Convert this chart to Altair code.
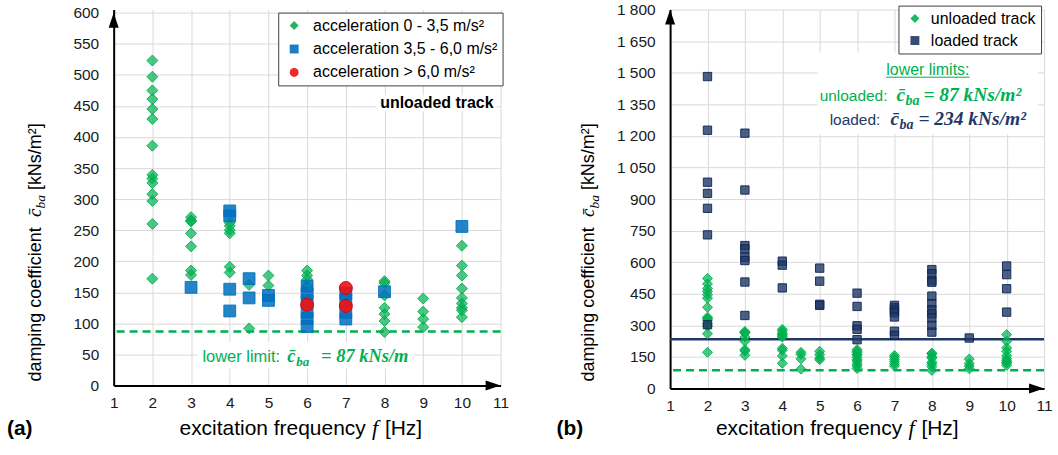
import altair as alt
import pandas as pd

# ---------------- values ----------------
X_TICKS = [1, 2, 3, 4, 5, 6, 7, 8, 9, 10, 11]
Y_TICKS_A = [0, 50, 100, 150, 200, 250, 300, 350, 400, 450, 500, 550, 600]
Y_TICKS_B = [0, 150, 300, 450, 600, 750, 900, 1050, 1200, 1350, 1500, 1650, 1800]

CLASSES_A = ["acceleration 0 - 3,5 m/s²", "acceleration 3,5 - 6,0 m/s²", "acceleration > 6,0 m/s²"]
CLASSES_B = ["unloaded track", "loaded track"]

# unloaded track, acceleration 0 - 3,5 m/s²
LOW_F = [2, 2, 2, 2, 2, 2, 2, 2, 2, 2, 2, 2, 2, 2,
         3, 3, 3, 3, 3, 3, 3,
         4, 4, 4, 4, 4, 4,
         4.5, 4.5,
         5, 5,
         6, 6, 6, 6,
         8, 8, 8, 8, 8, 8, 8,
         9, 9, 9, 9,
         10, 10, 10, 10, 10, 10, 10, 10, 10]
LOW_C = [523, 497, 475, 461, 445, 429, 386, 339, 333, 326, 308, 297, 260, 172,
         271, 266, 264, 245, 224, 185, 178,
         262, 257, 250, 245, 191, 182,
         162, 92,
         177, 161,
         185, 177, 171, 160,
         168, 165, 145, 125, 115, 104, 86,
         140, 119, 107, 94,
         225, 193, 177, 156, 141, 132, 125, 121, 110]

# unloaded track, acceleration 3,5 - 6,0 m/s²
MID_F = [3, 4, 4, 4, 4, 4.5, 4.5, 5, 5, 6, 6, 6, 6, 6, 6, 7, 7, 7, 7, 8, 10]
MID_C = [158, 281, 273, 155, 120, 172, 141, 145, 137, 160, 148, 137, 118, 108, 95,
         148, 138, 118, 107, 151, 256]

# unloaded track, acceleration > 6,0 m/s²
HIGH_F = [6, 7, 7]
HIGH_C = [130, 157, 128]

# loaded track
LOADED_F = [2, 2, 2, 2, 2, 2, 2,
            3, 3, 3, 3, 3, 3, 3, 3,
            4, 4, 4,
            5, 5, 5, 5,
            6, 6, 6, 6, 6,
            7, 7, 7, 7, 7, 7, 7,
            8, 8, 8, 8, 8, 8, 8, 8, 8, 8, 8,
            9,
            10, 10, 10, 10]
LOADED_C = [1482, 1227, 980, 927, 856, 730, 303,
            1213, 943, 679, 663, 624, 608, 506, 347,
            605, 586, 478,
            572, 510, 400, 395,
            453, 390, 298, 281, 232,
            395, 383, 371, 360, 340, 272, 253,
            565, 545, 513, 505, 439, 403, 374, 355, 335, 300, 268,
            240,
            582, 541, 474, 363]

LIMIT_UNLOADED = 87
LIMIT_LOADED = 234

# ---------------- styling ----------------
FONT = "Liberation Sans"
SERIF = "Liberation Serif"
GRID = "#d9d9d9"
LAB = "#1a1a1a"
GREEN = "#00b050"
BLUE = "#0070c0"
RED = "#ee1111"
NAVY = "#1f3864"

W_A, H_A = 388, 377
W_B, H_B = 375, 380

UP = "M0,-1L0.667,1L-0.667,1Z"
RIGHT = "M1,0L-1,0.667L-1,-0.667Z"

ONE = pd.DataFrame({"k": [0]})


def axis(**kw):
    base = dict(title=None, grid=True, gridColor=GRID, gridWidth=1, domain=True,
                domainColor="black", domainWidth=2, ticks=False, labelFont=FONT,
                labelFontSize=15.5, labelColor=LAB, labelOverlap=False, labelFlush=False)
    base.update(kw)
    return alt.Axis(**base)


def xenc():
    return alt.X("f:Q", scale=alt.Scale(domain=[1, 11], nice=False, zero=False),
                 axis=axis(values=X_TICKS, labelPadding=10, format="d"))


def yA():
    return alt.Y("c:Q", scale=alt.Scale(domain=[0, 605], nice=False, zero=False),
                 axis=axis(values=Y_TICKS_A, labelPadding=15, format="d"))


def yB():
    return alt.Y("c:Q", scale=alt.Scale(domain=[0, 1800], nice=False, zero=False),
                 axis=axis(values=Y_TICKS_B, labelPadding=15,
                           labelExpr="replace(format(datum.value, ','), ',', ' ')"))


def T(text, x, y, size, color="black", font=FONT, style="normal", weight="normal",
      dx=0, dy=0, align="left", angle=0):
    return alt.Chart(ONE).mark_text(
        text=text, font=font, fontSize=size, fontStyle=style, fontWeight=weight,
        color=color, dx=dx, dy=dy, align=align, baseline="alphabetic", angle=angle
    ).encode(x=alt.value(x), y=alt.value(y))


def box(x, x2, y, y2):
    return alt.Chart(ONE).mark_rect(color="white").encode(
        x=alt.value(x), x2=alt.value(x2), y=alt.value(y), y2=alt.value(y2))


def ytitle(x, y):
    return [
        T("damping coefficient", x, y, 18, angle=270),
        T("c̄", x, y, 19, font=SERIF, style="italic", dx=165, angle=270),
        T("ba", x, y, 13.5, font=SERIF, style="italic", dx=173.5, dy=4.5, angle=270),
        T("[kNs/m²]", x, y, 18, dx=192, angle=270),
    ]


def xtitle(x, y):
    return [
        T("excitation frequency", x, y, 21),
        T("f", x, y, 22, font=SERIF, style="italic", dx=193),
        T("[Hz]", x, y, 21, dx=206),
    ]


def arrows(ytop, yenc):
    up = alt.Chart(pd.DataFrame({"f": [X_TICKS[0]], "c": [ytop]})).mark_point(
        shape=UP, filled=True, color="black", size=225, opacity=1, yOffset=7.5
    ).encode(x=xenc(), y=yenc)
    rt = alt.Chart(pd.DataFrame({"f": [X_TICKS[-1]], "c": [0]})).mark_point(
        shape=RIGHT, filled=True, color="black", size=225, opacity=1, xOffset=-7.5
    ).encode(x=xenc(), y=yenc)
    return [up, rt]


# ---------------- panel (a) ----------------
df_low = pd.DataFrame({"f": LOW_F, "c": LOW_C, "cls": CLASSES_A[0]})
df_mid = pd.DataFrame({"f": MID_F, "c": MID_C, "cls": CLASSES_A[1]})
df_high = pd.DataFrame({"f": HIGH_F, "c": HIGH_C, "cls": CLASSES_A[2]})

LEG_A = alt.Legend(orient="none", legendX=165, legendY=3, title=None, fillColor="white",
                   strokeColor="#404040", padding=5, symbolOffset=3, labelOffset=11,
                   rowPadding=7.5, labelFont=FONT, labelFontSize=16, labelColor="black",
                   labelLimit=0, symbolSize=80, symbolStrokeWidth=0, symbolOpacity=0.9)
COL_A = alt.Scale(domain=CLASSES_A, range=[GREEN, BLUE, RED])
SHP_A = alt.Scale(domain=CLASSES_A, range=["diamond", "square", "circle"])


def ptsA(df, size, fop, stroke):
    return alt.Chart(df).mark_point(
        filled=True, size=size, opacity=1, fillOpacity=fop, stroke=stroke,
        strokeWidth=1, strokeOpacity=0.9
    ).encode(x=xenc(), y=yA(),
             color=alt.Color("cls:N", scale=COL_A, legend=LEG_A),
             shape=alt.Shape("cls:N", scale=SHP_A, legend=LEG_A))


limA = alt.Chart(pd.DataFrame({"c": [LIMIT_UNLOADED]})).mark_rule(
    color=GREEN, strokeWidth=2.5, strokeDash=[8, 5]).encode(y=yA())

layers_a = [
    box(263, 384, 86, 102),
    box(84, 301, 333, 360),
    limA,
    ptsA(df_low, 121, 0.7, GREEN),
    ptsA(df_mid, 140, 0.85, BLUE),
    ptsA(df_high, 170, 0.9, "#d00010"),
] + arrows(Y_TICKS_A[-1], yA()) + [
    T("unloaded track", 381, 99, 16, weight="bold", align="right"),
    T("lower limit:", 89, 353, 16.5, color=GREEN),
    T("c̄", 89, 353, 18.5, color=GREEN, font=SERIF, style="italic", weight="bold", dx=85),
    T("ba", 89, 353, 13, color=GREEN, font=SERIF, style="italic", weight="bold", dx=94, dy=4),
    T("= 87 kNs/m", 89, 353, 18.5, color=GREEN, font=SERIF, style="italic", weight="bold", dx=119),
    T("(a)", -107, 427, 21, weight="bold"),
] + ytitle(-73, 373) + xtitle(66, 427)

panel_a = alt.layer(*layers_a).properties(width=W_A, height=H_A)

# ---------------- panel (b) ----------------
df_unl = pd.DataFrame({"f": LOW_F + MID_F + HIGH_F, "c": LOW_C + MID_C + HIGH_C,
                       "trk": CLASSES_B[0]})
df_lod = pd.DataFrame({"f": LOADED_F, "c": LOADED_C, "trk": CLASSES_B[1]})

LEG_B = alt.Legend(orient="none", legendX=229, legendY=-4, title=None, fillColor="white",
                   strokeColor="#404040", padding=5, symbolOffset=3.5, labelOffset=8,
                   rowPadding=6, labelFont=FONT, labelFontSize=16, labelColor="black",
                   labelLimit=0, symbolSize=80, symbolStrokeWidth=0, symbolOpacity=0.9)
COL_B = alt.Scale(domain=CLASSES_B, range=[GREEN, NAVY])
SHP_B = alt.Scale(domain=CLASSES_B, range=["diamond", "square"])


def ptsB(df, size, fop, stroke):
    return alt.Chart(df).mark_point(
        filled=True, size=size, opacity=1, fillOpacity=fop, stroke=stroke,
        strokeWidth=1, strokeOpacity=0.9
    ).encode(x=xenc(), y=yB(),
             color=alt.Color("trk:N", scale=COL_B, legend=LEG_B),
             shape=alt.Shape("trk:N", scale=SHP_B, legend=LEG_B))


limB1 = alt.Chart(pd.DataFrame({"c": [LIMIT_UNLOADED]})).mark_rule(
    color=GREEN, strokeWidth=2.5, strokeDash=[8, 5]).encode(y=yB())
limB2 = alt.Chart(pd.DataFrame({"c": [LIMIT_LOADED]})).mark_rule(
    color=NAVY, strokeWidth=2.5).encode(y=yB())

layers_b = [
    box(148, 369, 43, 125),
    limB1, limB2,
    ptsB(df_unl, 100, 0.7, GREEN),
    ptsB(df_lod, 70, 0.8, "#0f2457"),
] + arrows(Y_TICKS_B[-1], yB()) + [
    T("lower limits:", 258.5, 66, 16, color=GREEN, align="center"),
    alt.Chart(ONE).mark_rule(color=GREEN, strokeWidth=1).encode(
        x=alt.value(216.7), x2=alt.value(300.3), y=alt.value(67.8)),
    T("unloaded:", 150, 91.3, 15.5, color=GREEN),
    T("c̄", 150, 91.3, 19.5, color=GREEN, font=SERIF, style="italic", weight="bold", dx=77),
    T("ba", 150, 91.3, 14, color=GREEN, font=SERIF, style="italic", weight="bold", dx=86, dy=4),
    T("= 87 kNs/m²", 150, 91.3, 19.5, color=GREEN, font=SERIF, style="italic", weight="bold", dx=104),
    T("loaded:", 160, 115.3, 15.5, color=NAVY),
    T("c̄", 160, 115.3, 19.5, color=NAVY, font=SERIF, style="italic", weight="bold", dx=61),
    T("ba", 160, 115.3, 14, color=NAVY, font=SERIF, style="italic", weight="bold", dx=70, dy=4),
    T("= 234 kNs/m²", 160, 115.3, 19.5, color=NAVY, font=SERIF, style="italic", weight="bold", dx=89),
    T("(b)", -114, 427, 21, weight="bold"),
] + ytitle(-76, 373) + xtitle(46, 427)

panel_b = alt.layer(*layers_b).properties(width=W_B, height=H_B)

chart = alt.hconcat(panel_a, panel_b, spacing=170, bounds="flush").resolve_scale(
    color="independent", shape="independent"
).properties(
    padding={"left": 7, "top": 2, "right": 5, "bottom": 5},
    background="white",
).configure_view(stroke=None)

chart.save("out.html", embed_options={"renderer": "svg", "actions": False})
